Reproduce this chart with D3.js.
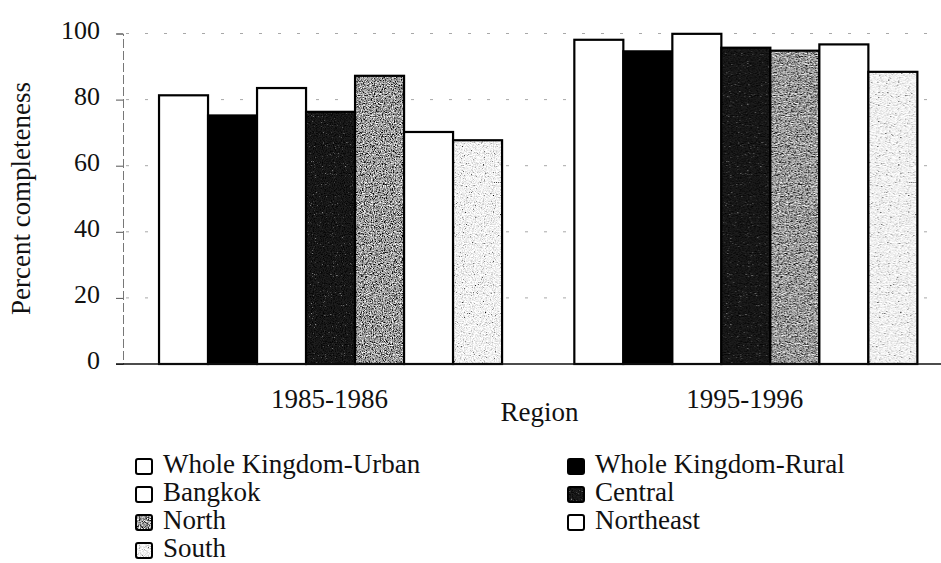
<!DOCTYPE html>
<html><head><meta charset="utf-8">
<script src="https://cdn.jsdelivr.net/npm/d3@7"></script>
<style>
body{margin:0;background:#fff}
svg text{font-family:"Liberation Serif","Times New Roman",serif;fill:#111}
</style>
</head><body>
<svg id="c" width="941" height="563"></svg>
<script>
// ---- data ----
const periods = ["1985-1986", "1995-1996"];
const seriesNames = ["Whole Kingdom-Urban", "Whole Kingdom-Rural", "Bangkok", "Central", "North", "Northeast", "South"];
const values1985 = [81.3, 75.2, 83.5, 76.3, 87.2, 70.2, 67.7];
const values1995 = [98.1, 94.6, 99.9, 95.7, 94.8, 96.7, 88.4];
const yTicks = [0, 20, 40, 60, 80, 100];
const yTitle = "Percent completeness";
const xTitle = "Region";

const table = periods.map((p, i) => ({
  period: p,
  values: seriesNames.map((s, j) => ({ series: s, value: [values1985, values1995][i][j] }))
}));

// ---- styles ----
const fills = {
  "Whole Kingdom-Urban": "#ffffff",
  "Whole Kingdom-Rural": "#000000",
  "Bangkok": "#ffffff",
  "Central": "url(#pCentral)",
  "North": "url(#pNorth)",
  "Northeast": "#ffffff",
  "South": "url(#pSouth)"
};

const svg = d3.select("#c");
const defs = svg.append("defs");

function speckle(id, freq, darkK, darkB, lightK, lightB) {
  const f = defs.append("filter").attr("id", id)
    .attr("x", 0).attr("y", 0).attr("width", 1).attr("height", 1);
  f.append("feTurbulence").attr("type", "fractalNoise")
    .attr("baseFrequency", freq).attr("numOctaves", 2).attr("seed", 3).attr("result", "n");
  f.append("feColorMatrix").attr("in", "n").attr("type", "matrix")
    .attr("values", `0 0 0 0 0  0 0 0 0 0  0 0 0 0 0  ${darkK} 0 0 0 ${darkB}`).attr("result", "d");
  f.append("feColorMatrix").attr("in", "n").attr("type", "matrix")
    .attr("values", `0 0 0 0 1  0 0 0 0 1  0 0 0 0 1  0 ${lightK} 0 0 ${lightB}`).attr("result", "l");
  const m = f.append("feMerge");
  m.append("feMergeNode").attr("in", "d");
  m.append("feMergeNode").attr("in", "l");
}
speckle("fCentral", 0.9, 2.5, -1.0, 2.2, -1.55);
speckle("fNorth", 0.9, 3, -1.1, 3, -1.3);
speckle("fSouth", 0.9, 3, -1.45, 3, -0.8);

function pattern(id, base, filt) {
  const p = defs.append("pattern").attr("id", id)
    .attr("patternUnits", "userSpaceOnUse").attr("width", 941).attr("height", 563);
  p.append("rect").attr("width", 941).attr("height", 563).attr("fill", base);
  p.append("rect").attr("width", 941).attr("height", 563).attr("fill", "#fff").attr("filter", `url(#${filt})`);
}
pattern("pCentral", "#1e1e1e", "fCentral");
pattern("pNorth", "#8e8e8e", "fNorth");
pattern("pSouth", "#d8d8d8", "fSouth");

// ---- scales ----
const y = d3.scaleLinear().domain([0, 100]).range([364, 33.5]);
const x0 = d3.scaleBand().domain(periods).range([122.9, 953.5]).paddingInner(0.174).paddingOuter(0.087);
const x1 = d3.scaleBand().domain(seriesNames).range([0, x0.bandwidth()]).padding(0);

// gridlines
svg.append("g").selectAll("line").data(yTicks.filter(d => d > 0)).join("line")
  .attr("x1", 126).attr("x2", 941)
  .attr("y1", d => y(d)).attr("y2", d => y(d))
  .attr("stroke", "#a8a8a8").attr("stroke-width", 1).attr("stroke-dasharray", "3,16");

// y axis
const yAxis = svg.append("g").attr("transform", "translate(123,0)")
  .call(d3.axisLeft(y).tickValues(yTicks).tickSize(7).tickPadding(16));
yAxis.attr("font-family", null);
yAxis.select(".domain").attr("stroke", "#777").attr("stroke-dasharray", "9,3");
yAxis.selectAll(".tick line").attr("stroke", "#555");
yAxis.selectAll(".tick text").attr("font-size", 26).attr("dy", "0.18em")
  .style("font-family", '"Liberation Serif","Times New Roman",serif').attr("fill", "#111");

// bars
const groups = svg.append("g").selectAll("g").data(table).join("g")
  .attr("transform", d => `translate(${x0(d.period)},0)`);
groups.selectAll("rect").data(d => d.values).join("rect")
  .attr("x", d => x1(d.series))
  .attr("width", x1.bandwidth())
  .attr("y", d => y(d.value))
  .attr("height", d => y(0) - y(d.value))
  .attr("fill", d => fills[d.series])
  .attr("stroke", "#000").attr("stroke-width", 2.2);

// x axis baseline
svg.append("line").attr("x1", 116).attr("x2", 941).attr("y1", y(0)).attr("y2", y(0))
  .attr("stroke", "#111").attr("stroke-width", 1.6);

// x category labels
svg.append("g").selectAll("text").data(periods).join("text")
  .attr("x", d => x0(d) + x0.bandwidth() / 2 - 1)
  .attr("y", 408)
  .attr("text-anchor", "middle").attr("font-size", 27)
  .text(d => d);

// axis titles
svg.append("text").attr("x", 539.5).attr("y", 421).attr("text-anchor", "middle")
  .attr("font-size", 27).text(xTitle);
svg.append("text").attr("transform", "translate(30,198.5) rotate(-90)")
  .attr("text-anchor", "middle").attr("font-size", 27).text(yTitle);

// legend
const legend = svg.append("g").selectAll("g").data(seriesNames).join("g")
  .attr("transform", (d, i) => `translate(${i % 2 === 0 ? 135 : 567},${473 + Math.floor(i / 2) * 28})`);
legend.append("rect").attr("x", 1).attr("y", -14).attr("width", 16).attr("height", 15)
  .attr("rx", 2).attr("fill", d => fills[d]).attr("stroke", "#000").attr("stroke-width", 2);
legend.append("text").attr("x", 28).attr("y", 0).attr("font-size", 27).text(d => d);
</script>
</body></html>
